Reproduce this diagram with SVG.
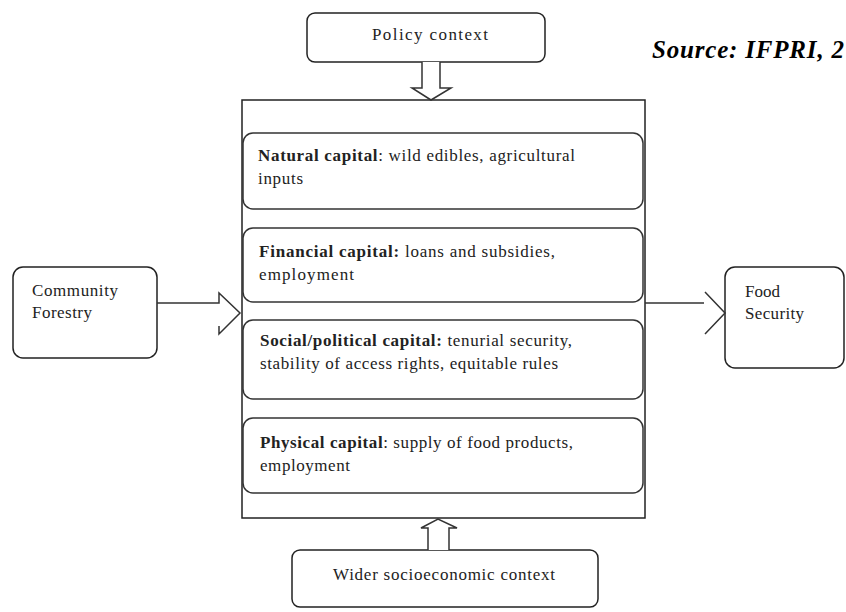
<svg xmlns="http://www.w3.org/2000/svg" width="846" height="612" viewBox="0 0 846 612">
<style>
.box{fill:#fff;stroke:#222;stroke-width:1.5}
.inner{fill:#fff;stroke:#333;stroke-width:1.5}
.ln{fill:none;stroke:#333;stroke-width:1.5}
.arr{fill:#fff;stroke:#333;stroke-width:1.5}
text{font-family:"Liberation Serif","Times New Roman",serif;font-size:17px;fill:#222}
.b{font-weight:bold}
.src{font-weight:bold;font-style:italic;font-size:25px;fill:#000}
</style>
<rect width="846" height="612" fill="#fff"/>
<text class="src" x="652" y="58" textLength="192" lengthAdjust="spacing">Source: IFPRI, 2</text>

<g id="policy">
<rect class="box" x="307" y="13" width="238" height="49" rx="8"/>
<text x="372" y="40" textLength="116" lengthAdjust="spacing">Policy context</text>
</g>

<g id="main">
<rect class="box" x="242" y="100" width="403" height="418" stroke-width="2"/>
</g>

<g id="natural">
<rect class="inner" x="243" y="133" width="400" height="76" rx="10"/>
<text x="258" y="161" textLength="317" lengthAdjust="spacing"><tspan class="b">Natural capital</tspan>: wild edibles, agricultural</text>
<text x="258" y="184" textLength="45" lengthAdjust="spacing">inputs</text>
</g>
<g id="financial">
<rect class="inner" x="243" y="228" width="400" height="74" rx="10"/>
<text x="259" y="257" textLength="296" lengthAdjust="spacing"><tspan class="b">Financial capital:</tspan> loans and subsidies,</text>
<text x="259" y="280" textLength="95" lengthAdjust="spacing">employment</text>
</g>
<g id="social">
<rect class="inner" x="243" y="320" width="400" height="79" rx="10"/>
<text x="260" y="346" textLength="312" lengthAdjust="spacing"><tspan class="b">Social/political capital:</tspan> tenurial security,</text>
<text x="260" y="369" textLength="298" lengthAdjust="spacing">stability of access rights, equitable rules</text>
</g>
<g id="physical">
<rect class="inner" x="243" y="418" width="400" height="75" rx="10"/>
<text x="260" y="448" textLength="313" lengthAdjust="spacing"><tspan class="b">Physical capital</tspan>: supply of food products,</text>
<text x="260" y="471" textLength="90" lengthAdjust="spacing">employment</text>
</g>

<g id="community">
<rect class="box" x="13" y="267" width="144" height="91" rx="10"/>
<text x="32" y="296" textLength="86" lengthAdjust="spacing">Community</text>
<text x="32" y="318" textLength="60" lengthAdjust="spacing">Forestry</text>
</g>
<g id="food">
<rect class="box" x="725" y="267" width="119" height="101" rx="10"/>
<text x="745" y="297" textLength="35" lengthAdjust="spacing">Food</text>
<text x="745" y="319" textLength="59" lengthAdjust="spacing">Security</text>
</g>
<g id="wider">
<rect class="box" x="292" y="550" width="306" height="57" rx="8"/>
<text x="333" y="580" textLength="222" lengthAdjust="spacing">Wider socioeconomic context</text>
</g>

<g id="connectors">
<path class="arr" d="M422,62 V88 H412 L431,100 L451,88 H440 V62"/>
<path class="arr" d="M428,550 V528 H421 L438,519 L457,528 H449 V550"/>
<path class="ln" d="M157,303 H219 V293 L240,313 L219,334 V326"/>
<path class="ln" d="M645,303 H704 M705,292 L725,313 L705,334"/>
</g>
</svg>
